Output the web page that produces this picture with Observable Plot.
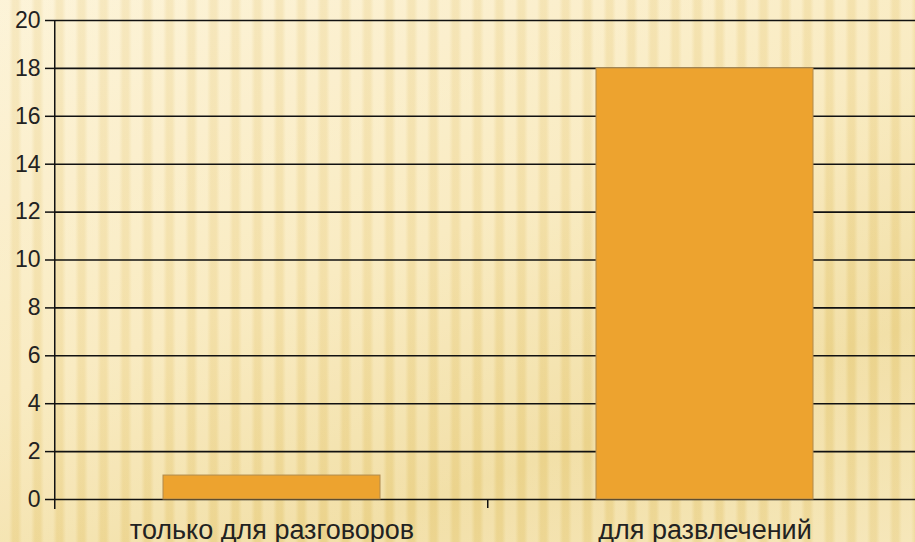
<!DOCTYPE html>
<html>
<head>
<meta charset="utf-8">
<script src="https://cdn.jsdelivr.net/npm/d3@7"></script>
<script src="https://cdn.jsdelivr.net/npm/@observablehq/plot@0.6"></script>
<style>
  html, body { margin: 0; padding: 0; overflow: hidden; width: 915px; height: 542px; }
  body {
    background:
      repeating-linear-gradient(90deg, rgba(255,255,255,0.18) 0px, rgba(255,255,255,0.18) 9px, rgba(200,160,60,0.10) 13px, rgba(200,160,60,0.10) 18px, rgba(255,255,255,0.18) 22px),
      linear-gradient(160deg, #fcf1d0 0%, #f8e7b5 45%, #efd995 75%, #f4e2ab 100%);
  }
  #chart svg { display: block; background: transparent; max-width: none !important; height: 542px !important; }
</style>
</head>
<body>
<div id="chart"></div>
<script>
const categories = ["только для разговоров", "для развлечений"];
const values = [1, 18];
const yTicks = [0, 2, 4, 6, 8, 10, 12, 14, 16, 18, 20];

const data = categories.map((c, i) => ({category: c, value: values[i]}));

const font = "'Liberation Sans', Arial, sans-serif";

// category boundary ticks (between bands) drawn from the x scale
function boundaryTicks(index, scales, values, dimensions) {
  const x = scales.x, y = scales.y;
  const step = x(categories[1]) - x(categories[0]);
  const bw = step / 2;
  const centers = categories.map(c => x(c) + bw / 2);
  const bounds = centers.map(c => c - step / 2).concat([centers[centers.length - 1] + step / 2]);
  const g = d3.create("svg:g");
  const y0 = y(0);
  for (const b of bounds.slice(1)) {
    g.append("line").attr("x1", b).attr("x2", b).attr("y1", y0).attr("y2", y0 + 9)
      .attr("stroke", "#111").attr("stroke-width", 1.5);
  }
  // vertical axis line
  g.append("line").attr("x1", bounds[0]).attr("x2", bounds[0])
    .attr("y1", y(20)).attr("y2", y0 + 10)
    .attr("stroke", "#111").attr("stroke-width", 1.5);
  return g.node();
}

const chart = Plot.plot({
  width: 921,
  height: 542,
  marginLeft: 55,
  marginRight: 0,
  marginTop: 20,
  marginBottom: 43,
  style: {background: "transparent", fontFamily: font, color: "#222"},
  x: {domain: categories, paddingInner: 0.5, paddingOuter: 0.25, label: null},
  y: {domain: [0, 20], label: null},
  marks: [
    Plot.ruleY(yTicks, {stroke: "#111", strokeWidth: 1.6}),
    Plot.barY(data, {x: "category", y: "value", fill: "#eda32f", stroke: "#b08a4e", strokeWidth: 1}),
    boundaryTicks,
    Plot.axisY({ticks: yTicks, tickSize: 10, tickPadding: 5, fontSize: 23, stroke: "#111", strokeWidth: 1.5, fill: "#222", label: null}),
    Plot.axisX({tickSize: 0, tickPadding: 20, fontSize: 27, fill: "#222", label: null})
  ]
});

document.getElementById("chart").appendChild(chart);
</script>
</body>
</html>
